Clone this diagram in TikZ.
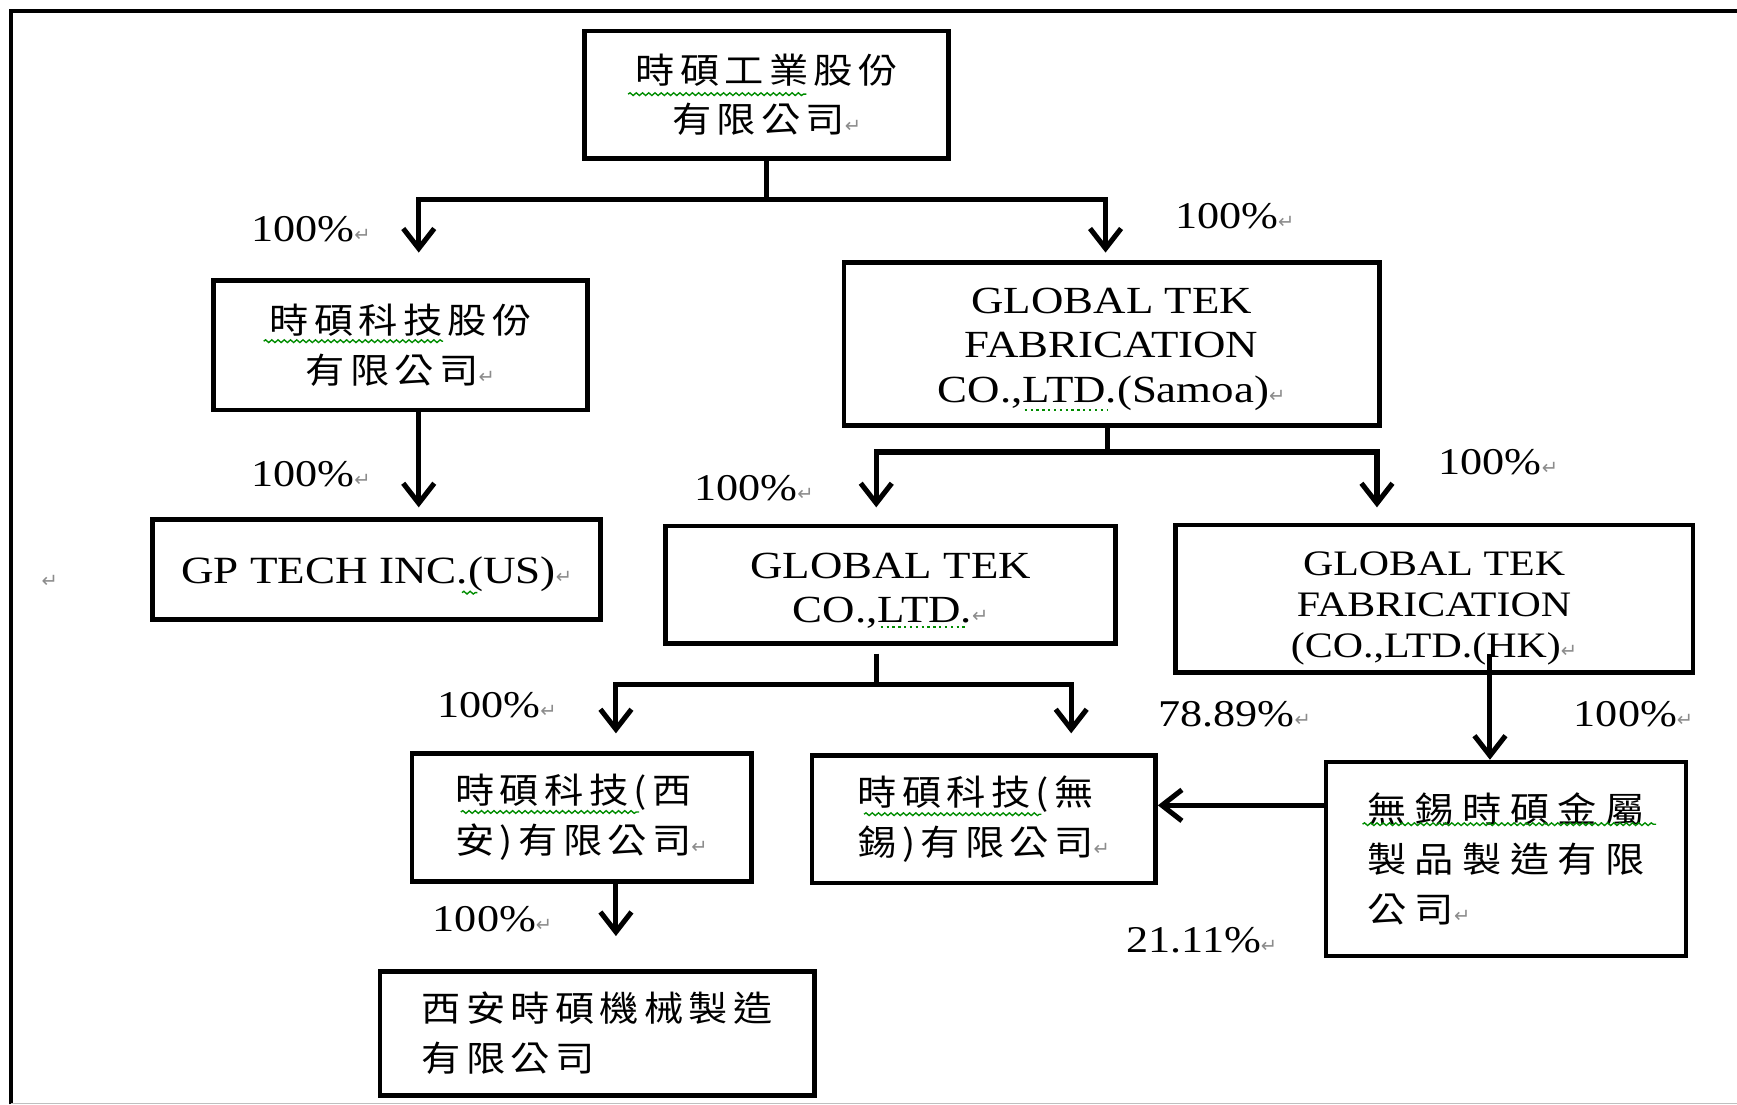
\documentclass[tikz,border=0pt]{standalone}
\usepackage{fontspec}
\setmainfont{Liberation Serif}[FakeStretch=1.17]
\newfontfamily\cjk{Noto Sans CJK TC}[FakeStretch=1.12,LetterSpace=15]
\newfontfamily\cjkw{Noto Sans CJK TC}[FakeStretch=1.12,LetterSpace=24]
\newfontfamily\retfont{DejaVu Sans}
\usetikzlibrary{arrows.meta,decorations.pathmorphing}
\newcommand\ret{{\retfont\fontsize{5pt}{5pt}\selectfont\color{black!45}↵}}
\newcommand\pushtop[1]{\rule{0pt}{#1}}
\begin{document}
\begin{tikzpicture}[x=0.01cm,y=-0.01cm,
  box/.style={draw, line width=1.2pt, inner sep=0pt},
  cbox/.style={box, align=center, font=\cjk\fontsize{9pt}{12.8pt}\selectfont},
  lbox/.style={box, align=left, font=\cjk\fontsize{9pt}{12.8pt}\selectfont},
  ebox/.style={box, align=center, font=\fontsize{9.85pt}{11.4pt}\selectfont},
  pct/.style={inner sep=0pt, anchor=base west, font=\fontsize{9.7pt}{11pt}\selectfont},
  conn/.style={line width=1.3pt},
  arr/.style={line width=1.3pt, -{Straight Barb[length=0.18cm, width=0.28cm, line width=1.3pt]}},
  wavy/.style={green!55!black, line width=0.35pt, decorate, decoration={snake, amplitude=0.35pt, segment length=1.6pt}},
  dotu/.style={green!55!black, line width=0.4pt, dash pattern=on 0.6pt off 0.9pt}]
\useasboundingbox (0,0) rectangle (1568,997);
% outer frame
\draw[line width=1.2pt] (10,997) -- (10,10) -- (1568,10);
\draw[black!25, line width=0.3pt] (10,996) -- (1568,996);
\node[inner sep=0pt] (pm) at (45,525) {\ret};

% boxes
\node[cbox, minimum width=3.28cm, minimum height=1.15cm] (b1) at (692,85.5) {時碩工業股份\\有限公司\ret};
\node[cbox, minimum width=3.37cm, minimum height=1.17cm] (b2) at (361.5,311.5) {時碩科技股份\\有限公司\ret};
\node[ebox, minimum width=4.83cm, minimum height=1.47cm] (b3) at (1003.5,310.5) {\pushtop{9.3pt}GLOBAL TEK\\FABRICATION\\CO.,LTD.(Samoa)\ret};
\node[box, font=\fontsize{9.9pt}{11pt}\selectfont, minimum width=4.04cm, minimum height=0.90cm] (b4) at (340,514) {\pushtop{9.2pt}GP TECH INC.(US)\ret};
\node[ebox, minimum width=4.06cm, minimum height=1.06cm] (b5) at (804,528) {\pushtop{9.6pt}GLOBAL TEK\\CO.,LTD.\ret};
\node[box, align=center, font=\fontsize{9.2pt}{10.5pt}\selectfont, minimum width=4.67cm, minimum height=1.33cm] (b6) at (1294.5,540.5) {\pushtop{11.2pt}GLOBAL TEK\\FABRICATION\\(CO.,LTD.(HK)\ret};
\node[lbox, minimum width=3.06cm, minimum height=1.16cm] (b7) at (525,738) {時碩科技(西\\安)有限公司\ret};
\node[lbox, minimum width=3.10cm, minimum height=1.15cm] (b8) at (888,739.5) {時碩科技(無\\錫)有限公司\ret};
\node[box, align=left, font=\cjkw\fontsize{9pt}{12.8pt}\selectfont, minimum width=3.25cm, minimum height=1.75cm] (b9) at (1359.5,775.5) {無錫時碩金屬\\製品製造有限\\公司\ret};
\node[lbox, minimum width=3.92cm, minimum height=1.12cm] (b10) at (539,933) {西安時碩機械製造\\有限公司};

% junctions and arrow ends
\coordinate (j1) at (692,180);
\coordinate (t1) at (378,228);
\coordinate (t2) at (998,228);
\coordinate (t3) at (378,458);
\coordinate (j2) at (1000,408);
\coordinate (t4) at (791,458);
\coordinate (t5) at (1243,458);
\coordinate (s5) at (791,590);
\coordinate (j3) at (791,618);
\coordinate (t6) at (556,662);
\coordinate (t7) at (967,662);
\coordinate (s6) at (1345,590);
\coordinate (s9) at (1197,727);
\coordinate (t8) at (556,845);

% connectors
\draw[conn] (b1.south) -- (j1);
\draw[arr] (j1) -| (t1);
\draw[arr] (j1) -| (t2);
\draw[arr] (t3 |- b2.south) -- (t3);
\draw[conn] (j2 |- b3.south) -- (j2);
\draw[arr] (j2) -| (t4);
\draw[arr] (j2) -| (t5);
\draw[conn] (s5) -- (j3);
\draw[arr] (j3) -| (t6);
\draw[arr] (j3) -| (t7);
\draw[arr] (s6) -- (s6 |- b9.north);
\draw[arr] (s9) -- (s9 -| b8.east);
\draw[arr] (t8 |- b7.south) -- (t8);

% percentage labels
\node[pct] (p1) at (226,218) {100\%\ret};
\node[pct] (p2) at (1060,206) {100\%\ret};
\node[pct] (p3) at (226,439) {100\%\ret};
\node[pct] (p4) at (626,452) {100\%\ret};
\node[pct] (p5) at (1298,428) {100\%\ret};
\node[pct] (p6) at (394,648) {100\%\ret};
\node[pct] (p7) at (1045,656) {78.89\%\ret};
\node[pct] (p8) at (1420,656) {100\%\ret};
\node[pct] (p9) at (1016,860) {21.11\%\ret};
\node[pct] (p10) at (390,841) {100\%\ret};

% proofing underlines
\draw[wavy] (567,85) -- (728,85);
\draw[wavy] (238,308) -- (400,308);
\draw[wavy] (416,733) -- (577,733);
\draw[wavy] (780,735) -- (940,735);
\draw[wavy] (1230,744) -- (1495,744);
\draw[wavy] (417,535) -- (431,535);
\draw[dotu] (925,370) -- (1000,370);
\draw[dotu] (795,566) -- (872,566);
\end{tikzpicture}
\end{document}
